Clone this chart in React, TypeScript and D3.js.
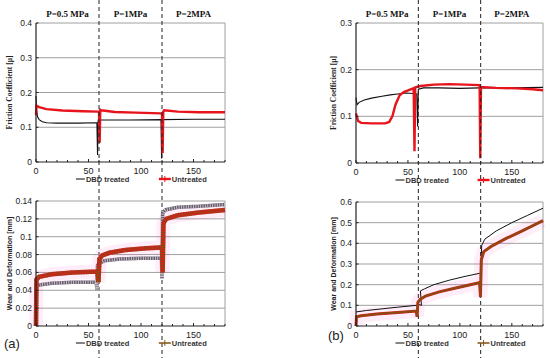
import React, { useLayoutEffect, useRef } from "react";
import { line, scaleLinear, select } from "d3";

type Pt = [number, number];

// Friction coefficient, panel (a)
const fricA_dbd: Pt[] = [
  [0, 0.19], [0.5, 0.15], [1.5, 0.13], [3, 0.122], [6, 0.116], [10, 0.113], [20, 0.112],
  [40, 0.112], [58, 0.113], [58.6, 0.02], [59.2, 0.12], [62, 0.121], [90, 0.121],
  [119, 0.122], [119.6, 0.01], [120.3, 0.122], [150, 0.123], [180, 0.123],
];
const fricA_untr: Pt[] = [
  [0, 0.135], [0.5, 0.162], [3, 0.158], [10, 0.152], [25, 0.148], [45, 0.146],
  [59, 0.145], [60, 0.145], [60.6, 0.055], [61.2, 0.15], [62, 0.149], [75, 0.144],
  [95, 0.142], [119, 0.14], [120, 0.14], [120.6, 0.025], [121.2, 0.145], [122, 0.149],
  [135, 0.145], [155, 0.143], [180, 0.143],
];

// Friction coefficient, panel (b)
const fricB_dbd: Pt[] = [
  [0, 0.14], [1, 0.125], [3, 0.13], [8, 0.135], [15, 0.139], [25, 0.143], [33, 0.146],
  [40, 0.148], [48, 0.15], [55, 0.149], [58.5, 0.148], [59.3, 0.078], [60, 0.158],
  [65, 0.161], [80, 0.161], [100, 0.16], [119, 0.161], [121, 0.161], [150, 0.161],
  [180, 0.162],
];
const fricB_untr: Pt[] = [
  [0, 0.106], [2, 0.09], [5, 0.086], [15, 0.085], [28, 0.085], [32, 0.088], [35, 0.1],
  [38, 0.125], [42, 0.145], [46, 0.152], [52, 0.157], [55.5, 0.16], [56.3, 0.025],
  [57, 0.162], [62, 0.165], [75, 0.168], [90, 0.169], [105, 0.168], [119, 0.167],
  [119.6, 0.01], [120.3, 0.163], [135, 0.161], [155, 0.16], [170, 0.158], [180, 0.156],
];

// Wear and deformation, panel (a)
const wearA_dbd: Pt[] = [
  [0, 0.0], [0.4, 0.044], [3, 0.046], [15, 0.048], [35, 0.049], [57.5, 0.049],
  [58, 0.04], [58.6, 0.068], [60, 0.07], [65, 0.073], [80, 0.075], [100, 0.076],
  [119.5, 0.076], [120, 0.053], [120.6, 0.126], [123, 0.13], [135, 0.133],
  [155, 0.134], [180, 0.136],
];
const wearA_untr: Pt[] = [
  [0, 0.0], [0.4, 0.052], [3, 0.055], [15, 0.058], [35, 0.06], [58.5, 0.061],
  [59.5, 0.049], [60.4, 0.075], [63, 0.079], [70, 0.082], [85, 0.085], [105, 0.087],
  [120, 0.088], [120.6, 0.06], [121.4, 0.115], [124, 0.12], [135, 0.124], [155, 0.127],
  [180, 0.13],
];

// Wear and deformation, panel (b)
const wearB_dbd: Pt[] = [
  [0, 0.068], [10, 0.075], [25, 0.083], [40, 0.091], [58, 0.1], [61, 0.104],
  [63, 0.1], [62, 0.17], [66, 0.18], [75, 0.2], [90, 0.222], [105, 0.24],
  [119, 0.255], [120, 0.26], [121, 0.39], [124, 0.42], [135, 0.46], [150, 0.5],
  [165, 0.535], [180, 0.57],
];
const wearB_untr: Pt[] = [
  [0, 0.0], [0.5, 0.045], [5, 0.05], [20, 0.058], [40, 0.065], [58, 0.072],
  [58.8, 0.045], [59.6, 0.115], [62, 0.13], [67, 0.145], [80, 0.165], [95, 0.183],
  [110, 0.2], [119, 0.21], [119.8, 0.14], [120.6, 0.32], [123, 0.36], [130, 0.385],
  [145, 0.425], [160, 0.46], [172, 0.49], [180, 0.51],
];

const xTicks = [0, 50, 100, 150];
const pressureLabels = ["P=0.5 MPa", "P=1MPa", "P=2MPA"];
const pressureMids = [30, 90, 150];
const stageBreaks = [60, 120];

const serif = "'Liberation Serif', 'Times New Roman', serif";
const sans = "'Liberation Sans', Arial, sans-serif";

interface Panel {
  x0: number;
  x1: number;
  yTop: number;
  yBot: number;
  yMax: number;
  yStep: number;
  decimals: number;
  yLabel: string;
  yLabelFont: string;
  yLabelSize: number;
  yLabelX: number;
  kind: "friction" | "wear";
  hatched: boolean;
  dbd: Pt[];
  untr: Pt[];
}

const panels: Panel[] = [
  { x0: 36, x1: 225, yTop: 23, yBot: 162, yMax: 0.4, yStep: 0.1, decimals: 1,
    yLabel: "Friction Coefficient [μ]", yLabelFont: serif, yLabelSize: 7.5, yLabelX: 12,
    kind: "friction", hatched: false, dbd: fricA_dbd, untr: fricA_untr },
  { x0: 356, x1: 543, yTop: 23, yBot: 163, yMax: 0.3, yStep: 0.1, decimals: 1,
    yLabel: "Friction Coefficient [μ]", yLabelFont: serif, yLabelSize: 7.5, yLabelX: 336,
    kind: "friction", hatched: false, dbd: fricB_dbd, untr: fricB_untr },
  { x0: 36, x1: 225, yTop: 201, yBot: 326, yMax: 0.14, yStep: 0.02, decimals: 2,
    yLabel: "Wear and Deformation [mm]", yLabelFont: sans, yLabelSize: 7, yLabelX: 12,
    kind: "wear", hatched: true, dbd: wearA_dbd, untr: wearA_untr },
  { x0: 356, x1: 543, yTop: 202, yBot: 326, yMax: 0.6, yStep: 0.1, decimals: 1,
    yLabel: "Wear and Deformation [mm]", yLabelFont: sans, yLabelSize: 7, yLabelX: 336,
    kind: "wear", hatched: false, dbd: wearB_dbd, untr: wearB_untr },
];

export default function App() {
  const ref = useRef<SVGSVGElement>(null);

  useLayoutEffect(() => {
    const svg = select(ref.current);
    svg.selectAll("*").remove();
    svg.append("rect").attr("width", 550).attr("height", 358).attr("fill", "#fff");

    panels.forEach((p) => {
      const x = scaleLinear().domain([0, 180]).range([p.x0, p.x1]);
      const y = scaleLinear().domain([0, p.yMax]).range([p.yBot, p.yTop]);
      const g = svg.append("g");
      const nTicks = Math.round(p.yMax / p.yStep);
      const yTicks = Array.from({ length: nTicks + 1 }, (_, i) => +(i * p.yStep).toFixed(3));

      // grid
      g.selectAll(".grid")
        .data(yTicks.slice(1))
        .join("line")
        .attr("x1", p.x0)
        .attr("x2", p.x1)
        .attr("y1", (d) => y(d))
        .attr("y2", (d) => y(d))
        .attr("stroke", "#a0a0a0")
        .attr("stroke-width", 1);
      g.append("line")
        .attr("x1", p.x1).attr("x2", p.x1).attr("y1", p.yTop).attr("y2", p.yBot)
        .attr("stroke", "#a0a0a0");

      // curves
      const ln = line<Pt>().x((d) => x(d[0])).y((d) => y(d[1]));
      const path = (data: Pt[], color: string, width: number, dash?: string, opacity = 1) => {
        const el = g.append("path").attr("d", ln(data)).attr("fill", "none")
          .attr("stroke", color).attr("stroke-width", width).attr("stroke-opacity", opacity);
        if (dash) el.attr("stroke-dasharray", dash);
      };
      if (p.kind === "friction") {
        path(p.dbd, "#111", 1.1);
        path(p.untr, "#e8141c", 2.4);
      } else {
        path(p.untr, "#ff40c0", 14, undefined, 0.09);
        if (p.hatched) {
          path(p.dbd, "#6a6070", 3.5);
          path(p.dbd, "#d8d0d8", 3.5, "0.8 1.6");
          path(p.untr, "#d42020", 4.5);
          path(p.untr, "#8a4a10", 4.5, "1 1.5");
        } else {
          path(p.dbd, "#111", 1);
          path(p.untr, "#d42020", 3);
          path(p.untr, "#8a4a10", 2);
        }
      }

      // axes
      g.append("line").attr("x1", p.x0).attr("x2", p.x0).attr("y1", p.yTop).attr("y2", p.yBot)
        .attr("stroke", "#222").attr("stroke-width", 1.2);
      g.append("line").attr("x1", p.x0).attr("x2", p.x1).attr("y1", p.yBot).attr("y2", p.yBot)
        .attr("stroke", "#222").attr("stroke-width", 1.2);
      const minor = Array.from({ length: 19 }, (_, i) => i * 10);
      g.selectAll(".xt")
        .data(minor)
        .join("line")
        .attr("x1", (d) => x(d)).attr("x2", (d) => x(d))
        .attr("y1", p.yBot).attr("y2", (d) => p.yBot - (d % 50 === 0 ? 3 : 2))
        .attr("stroke", "#222");
      g.selectAll(".yt")
        .data(yTicks)
        .join("line")
        .attr("x1", p.x0).attr("x2", p.x0 + 2.5)
        .attr("y1", (d) => y(d)).attr("y2", (d) => y(d))
        .attr("stroke", "#222");

      g.selectAll(".xl")
        .data(xTicks)
        .join("text")
        .attr("x", (d) => x(d))
        .attr("y", p.yBot + 12)
        .attr("text-anchor", "middle")
        .attr("font-family", sans)
        .attr("font-size", 9)
        .attr("fill", "#222")
        .text((d) => String(d));
      g.selectAll(".yl")
        .data(yTicks)
        .join("text")
        .attr("x", p.x0 - 4)
        .attr("y", (d) => y(d) + 3)
        .attr("text-anchor", "end")
        .attr("font-family", sans)
        .attr("font-size", 8.5)
        .attr("fill", "#222")
        .text((d) => (d === 0 ? "0" : String(+d.toFixed(p.decimals))));

      g.append("text")
        .attr("transform", `translate(${p.yLabelX},${(p.yTop + p.yBot) / 2}) rotate(-90)`)
        .attr("text-anchor", "middle")
        .attr("font-family", p.yLabelFont)
        .attr("font-weight", "bold")
        .attr("font-size", p.yLabelSize)
        .attr("fill", "#222")
        .text(p.yLabel);

      // pressure labels and stage lines
      if (p.kind === "friction") {
        g.selectAll(".pl")
          .data(pressureLabels)
          .join("text")
          .attr("x", (_, i) => x(pressureMids[i]))
          .attr("y", 17)
          .attr("text-anchor", "middle")
          .attr("font-family", serif)
          .attr("font-weight", "bold")
          .attr("font-size", 9)
          .attr("fill", "#111")
          .text((d) => d);
        g.selectAll(".sb")
          .data(stageBreaks)
          .join("line")
          .attr("x1", (d) => x(d)).attr("x2", (d) => x(d))
          .attr("y1", 0).attr("y2", 358)
          .attr("stroke", "#222").attr("stroke-width", 1)
          .attr("stroke-dasharray", "4 3");
      }

      // legend
      const ly = p.yBot + 20;
      const lx1 = x(38);
      const lx2 = x(117);
      g.append("line").attr("x1", lx1).attr("x2", lx1 + 9).attr("y1", ly - 3).attr("y2", ly - 3)
        .attr("stroke", "#333").attr("stroke-width", 1.2);
      g.append("text").attr("x", lx1 + 10).attr("y", ly).attr("font-family", sans)
        .attr("font-weight", "bold").attr("font-size", 7.5).attr("fill", "#333").text("DBD treated");
      const uc = p.kind === "friction" ? "#e8141c" : "#8a5a20";
      g.append("line").attr("x1", lx2).attr("x2", lx2 + 12).attr("y1", ly - 3).attr("y2", ly - 3)
        .attr("stroke", uc).attr("stroke-width", p.kind === "friction" ? 2.4 : 1.6);
      g.append("line").attr("x1", lx2 + 6).attr("x2", lx2 + 6).attr("y1", ly - 6).attr("y2", ly)
        .attr("stroke", uc).attr("stroke-width", 1);
      g.append("text").attr("x", lx2 + 13).attr("y", ly).attr("font-family", sans)
        .attr("font-weight", "bold").attr("font-size", 7.5).attr("fill", "#333").text("Untreated");
    });

    svg.append("text").attr("x", 4).attr("y", 348).attr("font-family", sans)
      .attr("font-size", 13).attr("fill", "#222").text("(a)");
    svg.append("text").attr("x", 328).attr("y", 340).attr("font-family", sans)
      .attr("font-size", 13).attr("fill", "#222").text("(b)");
  }, []);

  return (
    <div style={{ position: "absolute", left: 0, top: 0 }}>
      <svg ref={ref} width={550} height={358}></svg>
    </div>
  );
}
